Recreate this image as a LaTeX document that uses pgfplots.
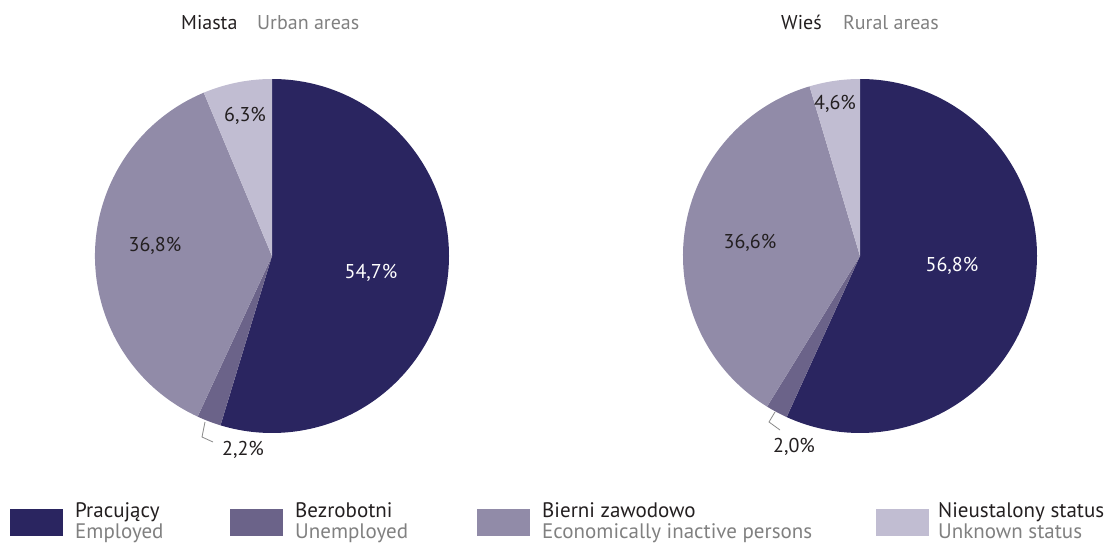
\documentclass[border=0pt]{standalone}
\usepackage{pgfplots}
\usepackage{pgfplotstable}
\pgfplotsset{compat=1.18}
\usepackage{fontspec}
\setmainfont{PT Sans}
\definecolor{cEmp}{HTML}{2A2560}
\definecolor{cUnemp}{HTML}{6B6389}
\definecolor{cInact}{HTML}{918BA8}
\definecolor{cUnk}{HTML}{C1BDD2}
\definecolor{tDark}{HTML}{231F20}
\definecolor{tGray}{HTML}{808080}
\definecolor{lGray}{HTML}{8A8A8A}

% shares in percent: Pracujacy, Bezrobotni, Bierni zawodowo, Nieustalony status
\pgfplotstableread{
value
54.7
2.2
36.8
6.3
}\urban
\pgfplotstableread{
value
56.8
2.0
36.6
4.6
}\rural

\newcommand\getv[2]{\pgfplotstablegetelem{#1}{value}\of#2\let\tmpv\pgfplotsretval}
\newcommand\fs{\fontsize{20}{22}\selectfont}
\newcommand\lfs{\fontsize{21}{22}\selectfont}

\begin{document}
\begin{tikzpicture}
% cumulative angles, clockwise from 12 o'clock
\getv{0}{\urban}\pgfmathsetmacro\uA{90-3.6*\tmpv}
\getv{1}{\urban}\pgfmathsetmacro\uB{\uA-3.6*\tmpv}
\getv{2}{\urban}\pgfmathsetmacro\uC{\uB-3.6*\tmpv}
\getv{3}{\urban}\pgfmathsetmacro\uD{\uC-3.6*\tmpv}
\getv{0}{\rural}\pgfmathsetmacro\rA{90-3.6*\tmpv}
\getv{1}{\rural}\pgfmathsetmacro\rB{\rA-3.6*\tmpv}
\getv{2}{\rural}\pgfmathsetmacro\rC{\rB-3.6*\tmpv}
\getv{3}{\rural}\pgfmathsetmacro\rD{\rC-3.6*\tmpv}
\begin{axis}[width=1117pt,height=542pt,scale only axis,
  xmin=0,xmax=1117,ymin=0,ymax=542,hide axis,clip=false]
% urban pie
\fill[cEmp] (axis cs:272,286) -- ++(90:177pt) arc[start angle=90,end angle=\uA,radius=177pt] -- cycle;
\fill[cUnemp] (axis cs:272,286) -- ++(\uA:177pt) arc[start angle=\uA,end angle=\uB,radius=177pt] -- cycle;
\fill[cInact] (axis cs:272,286) -- ++(\uB:177pt) arc[start angle=\uB,end angle=\uC,radius=177pt] -- cycle;
\fill[cUnk] (axis cs:272,286) -- ++(\uC:177pt) arc[start angle=\uC,end angle=\uD,radius=177pt] -- cycle;
% rural pie
\fill[cEmp] (axis cs:860,286) -- ++(90:177pt) arc[start angle=90,end angle=\rA,radius=177pt] -- cycle;
\fill[cUnemp] (axis cs:860,286) -- ++(\rA:177pt) arc[start angle=\rA,end angle=\rB,radius=177pt] -- cycle;
\fill[cInact] (axis cs:860,286) -- ++(\rB:177pt) arc[start angle=\rB,end angle=\rC,radius=177pt] -- cycle;
\fill[cUnk] (axis cs:860,286) -- ++(\rC:177pt) arc[start angle=\rC,end angle=\rD,radius=177pt] -- cycle;
% leader lines
\addplot[lGray,line width=0.8pt,no marks] coordinates {(205,120) (202,105) (213,100)};
\addplot[lGray,line width=0.8pt,no marks] coordinates {(775,130) (769,120) (780,112)};
% value labels
\node[font=\fs,text=white] at (axis cs:371,269) {54,7\%};
\node[font=\fs,text=tDark] at (axis cs:155,296) {36,8\%};
\node[font=\fs,text=tDark] at (axis cs:245,426) {6,3\%};
\node[font=\fs,text=tDark] at (axis cs:243,92) {2,2\%};
\node[font=\fs,text=white] at (axis cs:952,276) {56,8\%};
\node[font=\fs,text=tDark] at (axis cs:750,299) {36,6\%};
\node[font=\fs,text=tDark] at (axis cs:835,438) {4,6\%};
\node[font=\fs,text=tDark] at (axis cs:794,95) {2,0\%};
% titles
\node[font=\fs,text=tDark,anchor=base west,inner sep=0pt] at (axis cs:181,512) {Miasta};
\node[font=\fs,text=tGray,anchor=base west,inner sep=0pt] at (axis cs:257,512) {Urban areas};
\node[font=\fs,text=tDark,anchor=base west,inner sep=0pt] at (axis cs:781,512) {Wieś};
\node[font=\fs,text=tGray,anchor=base west,inner sep=0pt] at (axis cs:843,512) {Rural areas};
% legend
\fill[cEmp] (axis cs:10,6) rectangle (axis cs:63,33);
\fill[cUnemp] (axis cs:230,6) rectangle (axis cs:283,33);
\fill[cInact] (axis cs:477,6) rectangle (axis cs:530,33);
\fill[cUnk] (axis cs:876,6) rectangle (axis cs:929,33);
\node[font=\lfs,text=tDark,anchor=base west,inner sep=0pt] at (axis cs:75,25) {Pracujący};
\node[font=\lfs,text=tGray,anchor=base west,inner sep=0pt] at (axis cs:75,4) {Employed};
\node[font=\lfs,text=tDark,anchor=base west,inner sep=0pt] at (axis cs:295,25) {Bezrobotni};
\node[font=\lfs,text=tGray,anchor=base west,inner sep=0pt] at (axis cs:295,4) {Unemployed};
\node[font=\lfs,text=tDark,anchor=base west,inner sep=0pt] at (axis cs:542,25) {Bierni zawodowo};
\node[font=\lfs,text=tGray,anchor=base west,inner sep=0pt] at (axis cs:542,4) {Economically inactive persons};
\node[font=\lfs,text=tDark,anchor=base west,inner sep=0pt] at (axis cs:938,25) {Nieustalony status};
\node[font=\lfs,text=tGray,anchor=base west,inner sep=0pt] at (axis cs:938,4) {Unknown status};
\end{axis}
\pgfresetboundingbox
\useasboundingbox (0,0) rectangle (1117pt,542pt);
\end{tikzpicture}
\end{document}
